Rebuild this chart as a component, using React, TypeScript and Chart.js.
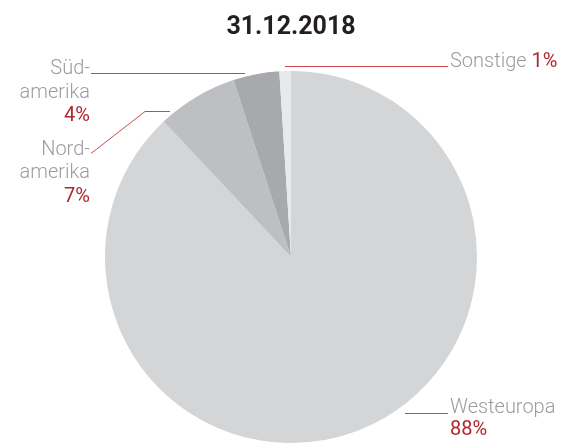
import React, { useEffect, useRef } from "react";
import { Chart, registerables } from "chart.js";

Chart.register(...registerables);

const title = "31.12.2018";
const regions = ["Westeuropa", "Nordamerika", "Südamerika", "Sonstige"];
const shares = [88, 7, 4, 1];
const sliceColors = ["#d4d5d7", "#bdbfc2", "#a7a9ac", "#e8e9eb"];

const GRAY = "#9a9c9f";
const RED = "#b0272d";
const LINE = "#d0454c";
const FONT = "Roboto, 'Liberation Sans', sans-serif";

// label layout (annotation positions)
const labelLayout = [
  { idx: 0, align: "left", x: 450, lines: ["Westeuropa"], baselines: [413, 435], leader: [[405, 413], [448, 413]] },
  { idx: 1, align: "right", x: 90, lines: ["Nord-", "amerika"], baselines: [155, 178, 202], leader: [[91, 153], [145, 111], [170, 111]] },
  { idx: 2, align: "right", x: 90, lines: ["Süd-", "amerika"], baselines: [74, 98, 121], leader: [[91, 73], [245, 73]] },
  { idx: 3, align: "inline", x: 450, lines: ["Sonstige"], baselines: [67], leader: [[285, 66], [448, 66]] },
];

const annotate = {
  id: "annotate",
  afterDraw(chart: any) {
    const ctx = chart.ctx as CanvasRenderingContext2D;
    ctx.save();
    ctx.fillStyle = "#231f20";
    ctx.font = `bold 25px ${FONT}`;
    ctx.textAlign = "center";
    ctx.textBaseline = "alphabetic";
    ctx.fillText(title, 291, 34);

    for (const l of labelLayout) {
      ctx.strokeStyle = LINE;
      ctx.lineWidth = 1;
      ctx.beginPath();
      l.leader.forEach((p, i) => {
        if (i === 0) ctx.moveTo(p[0], p[1] + 0.5);
        else ctx.lineTo(p[0], p[1] + 0.5);
      });
      ctx.stroke();

      const pct = shares[l.idx] + "%";
      if (l.align === "inline") {
        ctx.textAlign = "left";
        ctx.font = `300 20px ${FONT}`;
        ctx.fillStyle = GRAY;
        ctx.fillText(l.lines[0], l.x, l.baselines[0]);
        const w = ctx.measureText(l.lines[0] + " ").width;
        ctx.font = `400 20px ${FONT}`;
        ctx.fillStyle = RED;
        ctx.fillText(pct, l.x + w, l.baselines[0]);
      } else {
        ctx.textAlign = l.align as CanvasTextAlign;
        ctx.font = `300 20px ${FONT}`;
        ctx.fillStyle = GRAY;
        l.lines.forEach((t, i) => ctx.fillText(t, l.x, l.baselines[i]));
        ctx.font = `400 20px ${FONT}`;
        ctx.fillStyle = RED;
        ctx.fillText(pct, l.x, l.baselines[l.lines.length]);
      }
    }
    ctx.restore();
  },
};

export default function App() {
  const ref = useRef<HTMLCanvasElement | null>(null);
  useEffect(() => {
    if (!ref.current) return;
    const chart = new Chart(ref.current, {
      type: "pie",
      data: {
        labels: regions,
        datasets: [
          {
            data: shares,
            backgroundColor: sliceColors,
            borderWidth: 0,
            hoverOffset: 0,
            offset: 0,
          },
        ],
      },
      options: {
        responsive: false,
        devicePixelRatio: 1,
        animation: false,
        layout: { padding: { left: 105, right: 87, top: 71, bottom: 1 } },
        plugins: {
          legend: { display: false },
          tooltip: { enabled: false },
          title: { display: false },
        },
      },
      plugins: [annotate],
    });
    return () => chart.destroy();
  }, []);
  return (
    <div style={{ position: "absolute", left: 0, top: 0, width: 564, height: 444, background: "#fff" }}>
      <canvas ref={ref} width={564} height={444} style={{ width: 564, height: 444 }} />
    </div>
  );
}
